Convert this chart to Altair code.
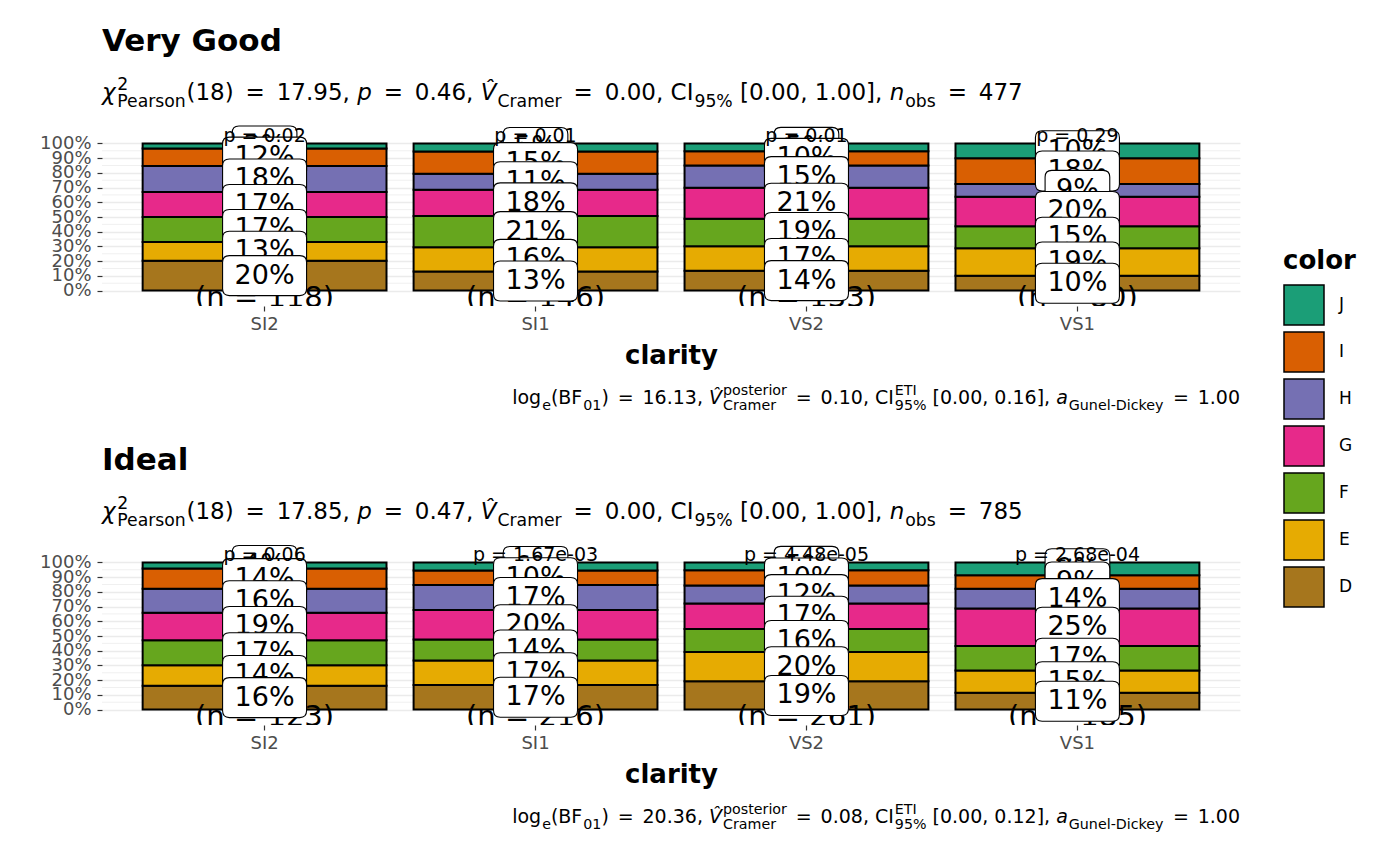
import altair as alt
import pandas as pd

# ---------------- data ----------------
clarity = ["SI2", "SI1", "VS2", "VS1"]
colors = ["D", "E", "F", "G", "H", "I", "J"]
palette = ["#A6761D", "#E6AB02", "#66A61E", "#E7298A", "#7570B3", "#D95F02", "#1B9E77"]

vg_counts = {
    "SI2": [24, 15, 20, 20, 21, 14, 4],
    "SI1": [19, 24, 31, 26, 16, 22, 8],
    "VS2": [18, 22, 25, 28, 20, 13, 7],
    "VS1": [8, 15, 12, 16, 7, 14, 8],
}
ideal_counts = {
    "SI2": [20, 17, 21, 23, 20, 17, 5],
    "SI1": [36, 36, 31, 43, 37, 21, 12],
    "VS2": [50, 52, 41, 45, 32, 27, 14],
    "VS1": [21, 28, 31, 47, 25, 17, 16],
}
vg_p = ["p = 0.02", "p = 0.01", "p = 0.01", "p = 0.29"]
ideal_p = ["p = 0.06", "p = 1.67e-03", "p = 4.48e-05", "p = 2.68e-04"]

y_breaks = [0, 0.1, 0.2, 0.3, 0.4, 0.5, 0.6, 0.7, 0.8, 0.9, 1.0]
minor_breaks = [0.05, 0.15, 0.25, 0.35, 0.45, 0.55, 0.65, 0.75, 0.85, 0.95]

vg_sub = [("i", "χ"), ("supsub", "2", "Pearson"), ("n", "(18) = 17.95, "), ("i", "p"),
          ("n", " = 0.46, "), ("i", "V\u0302"), ("sub", "Cramer"), ("n", " = 0.00, CI"),
          ("sub", "95%"), ("n", " [0.00, 1.00], "), ("i", "n"), ("sub", "obs"), ("n", " = 477")]
ideal_sub = [("i", "χ"), ("supsub", "2", "Pearson"), ("n", "(18) = 17.85, "), ("i", "p"),
             ("n", " = 0.47, "), ("i", "V\u0302"), ("sub", "Cramer"), ("n", " = 0.00, CI"),
             ("sub", "95%"), ("n", " [0.00, 1.00], "), ("i", "n"), ("sub", "obs"), ("n", " = 785")]
vg_cap = [("n", "log"), ("sub", "e"), ("n", "(BF"), ("sub", "01"), ("n", ") = 16.13, "),
          ("i", "V\u0302"), ("supsub", "posterior", "Cramer"), ("n", " = 0.10, CI"),
          ("supsub", "ETI", "95%"), ("n", " [0.00, 0.16], "), ("i", "a"),
          ("sub", "Gunel-Dickey"), ("n", " = 1.00")]
ideal_cap = [("n", "log"), ("sub", "e"), ("n", "(BF"), ("sub", "01"), ("n", ") = 20.36, "),
             ("i", "V\u0302"), ("supsub", "posterior", "Cramer"), ("n", " = 0.08, CI"),
             ("supsub", "ETI", "95%"), ("n", " [0.00, 0.12], "), ("i", "a"),
             ("sub", "Gunel-Dickey"), ("n", " = 1.00")]

# ---------------- layout ----------------
FONT = "DejaVu Sans"
W, H = 1138, 178
YDOM = [-0.105, 1.105]

CW = {' ': 0.318, '(': 0.390, ')': 0.390, '[': 0.390, ']': 0.390, ',': 0.318, '.': 0.318,
      '=': 0.838, '%': 0.950, '-': 0.361, 'a': 0.613, 'b': 0.635, 'c': 0.550, 'd': 0.635,
      'e': 0.615, 'g': 0.635, 'i': 0.278, 'k': 0.579, 'l': 0.278, 'm': 0.974, 'n': 0.634,
      'o': 0.612, 'p': 0.635, 'r': 0.411, 's': 0.521, 't': 0.392, 'u': 0.634, 'y': 0.592,
      'B': 0.686, 'C': 0.698, 'D': 0.770, 'E': 0.632, 'F': 0.575, 'G': 0.775, 'I': 0.295,
      'P': 0.603, 'T': 0.611, 'V': 0.684, 'χ': 0.62, '\u0302': 0.0}
for d in "0123456789":
    CW[d] = 0.636


def tw(s, fs):
    return sum(CW.get(ch, 0.6) for ch in s) * fs


def pieces(t):
    """split a normal text run around '=' so extra math spacing can be added"""
    out = []
    parts = t.split("=")
    for i, p in enumerate(parts):
        if i > 0:
            out.append(("=", True))
        if p:
            out.append((p, False))
    return out


def rich(segs, x0, y0, fs, sc, eq_extra):
    rows = []
    x = x0
    for s in segs:
        if s[0] in ("n", "i"):
            for t, is_eq in pieces(s[1]):
                if is_eq:
                    x += eq_extra * fs
                    rows.append(dict(t="=", x=x, y=y0, fs=fs, st=s[0]))
                    x += tw("=", fs) + eq_extra * fs
                    continue
                lead = len(t) - len(t.lstrip(" "))
                x += lead * CW[" "] * fs
                t2 = t.lstrip(" ")
                if t2:
                    rows.append(dict(t=t2, x=x, y=y0, fs=fs, st=s[0]))
                x += tw(t2, fs)
        elif s[0] == "sub":
            rows.append(dict(t=s[1], x=x + 1, y=y0 + 0.3 * fs, fs=fs * sc, st="n"))
            x += tw(s[1], fs * sc) + 1
        else:
            rows.append(dict(t=s[1], x=x + 1, y=y0 - 0.45 * fs, fs=fs * sc, st="n"))
            rows.append(dict(t=s[2], x=x + 1, y=y0 + 0.3 * fs, fs=fs * sc, st="n"))
            x += max(tw(s[1], fs * sc), tw(s[2], fs * sc)) + 1
    return rows, x - x0


def rrect(hw, hh, r):
    return (f"M {-hw + r} {-hh} L {hw - r} {-hh} Q {hw} {-hh} {hw} {-hh + r} "
            f"L {hw} {hh - r} Q {hw} {hh} {hw - r} {hh} L {-hw + r} {hh} "
            f"Q {-hw} {hh} {-hw} {hh - r} L {-hw} {-hh + r} Q {-hw} {-hh} {-hw + r} {-hh} Z")


WIDE = rrect(1.0, 0.476, 0.16)
NARROW = rrect(0.77, 0.476, 0.16)
BOXSIZE = 7056

xscale = alt.Scale(domain=clarity, paddingInner=0.1, paddingOuter=0.15)
yscale = alt.Scale(domain=YDOM, nice=False, zero=False)
cscale = alt.Scale(domain=colors[::-1], range=palette[::-1])

YAXIS = alt.Axis(title=None, values=y_breaks, format=".0%", labelFontSize=18,
                 labelColor="#4D4D4D", tickColor="#333333", tickSize=5,
                 tickWidth=1.2, domain=False, grid=True, gridColor="#EBEBEB",
                 gridWidth=1.4, labelPadding=6, labelFont=FONT,
                 labelOverlap=False, labelBound=False)
XAXIS = alt.Axis(title="clarity", titleFontSize=26, titleFontWeight="bold",
                 titleColor="black", labelFontSize=18, labelColor="#4D4D4D",
                 tickColor="#333333", tickSize=5, tickWidth=1.2, domain=False,
                 grid=False, labelAngle=0, labelPadding=4, titlePadding=9,
                 labelFont=FONT, titleFont=FONT)

LEGEND = alt.Legend(title="color", orient="none", legendX=1181, legendY=120,
                    symbolType="square", symbolSize=1600, symbolStrokeColor="black",
                    symbolStrokeWidth=1.5, symbolOpacity=1, titleFontSize=26,
                    titleFontWeight="bold", titleColor="black", labelFontSize=17,
                    labelColor="black", rowPadding=1, titlePadding=10, labelOffset=14,
                    titleFont=FONT, labelFont=FONT)


def XE():
    return alt.X("clarity:N", scale=xscale, sort=clarity, axis=XAXIS)


def YE(field):
    return alt.Y(field, scale=yscale, axis=YAXIS)


def panel(name, counts, pvals, sub, cap):
    rows = []
    for c in clarity:
        n = sum(counts[c])
        cum = 0.0
        for col, k in zip(colors, counts[c]):
            f = k / n
            rows.append(dict(clarity=c, color=col, y0=cum, y1=cum + f, ymid=cum + f / 2,
                             label=f"{round(100 * f)}%"))
            cum += f
    df = pd.DataFrame(rows)
    ndf = pd.DataFrame(dict(clarity=clarity,
                            t=[f"(n = {sum(counts[c])})" for c in clarity],
                            y=[-0.05] * 4))
    pdf = pd.DataFrame(dict(clarity=clarity, t=pvals, y=[1.05] * 4))

    grid = alt.Chart(pd.DataFrame(dict(v=minor_breaks))).mark_rule(
        color="#F0F0F0", strokeWidth=1).encode(
        y=YE("v:Q"), x=alt.value(0), x2=alt.value(W))

    bars = alt.Chart(df).mark_bar(stroke="black", strokeWidth=2).encode(
        x=XE(), y=YE("y0:Q"), y2="y1:Q",
        color=alt.Color("color:N", scale=cscale, legend=LEGEND))

    ntext = alt.Chart(ndf).mark_text(fontSize=29, font=FONT, clip=True, color="black").encode(
        x=XE(), y=YE("y:Q"), text="t:N")

    layers = [grid, bars, ntext]
    for col in colors[::-1]:
        sel = df[df.color == col]
        box = alt.Chart(sel).mark_point(filled=True, fill="white", stroke="black",
                                        strokeWidth=1.1, opacity=1, size=BOXSIZE).encode(
            x=XE(), y=YE("ymid:Q"),
            shape=alt.condition("length(datum.label) <= 2", alt.value(NARROW), alt.value(WIDE)))
        txt = alt.Chart(sel).mark_text(fontSize=27, font=FONT, color="black").encode(
            x=XE(), y=YE("ymid:Q"), text="label:N")
        layers += [box, txt]

    ptext = alt.Chart(pdf).mark_text(fontSize=19, font=FONT, color="black").encode(
        x=XE(), y=YE("y:Q"), text="t:N")
    layers.append(ptext)

    ann = [dict(t=name, x=0, y=-77, fs=31, st="b")]
    srows, _ = rich(sub, 0, -28, 23, 0.75, 0.2)
    ann += srows
    _, cw = rich(cap, 0, 0, 19, 0.75, 0.15)
    crows, _ = rich(cap, W - cw, 276, 19, 0.75, 0.15)
    ann += crows
    adf = pd.DataFrame(ann)
    for st, weight, style in [("b", "bold", "normal"), ("n", "normal", "normal"),
                              ("i", "normal", "italic")]:
        layers.append(
            alt.Chart(adf[adf.st == st]).mark_text(
                align="left", baseline="alphabetic", font=FONT, fontWeight=weight,
                fontStyle=style, color="black").encode(
                x=alt.X("x:Q", scale=None, axis=None),
                y=alt.Y("y:Q", scale=None, axis=None),
                size=alt.Size("fs:Q", scale=None, legend=None),
                text="t:N"))

    return alt.layer(*layers).properties(width=W, height=H)


p1 = panel("Very Good", vg_counts, vg_p, vg_sub, vg_cap)
p2 = panel("Ideal", ideal_counts, ideal_p, ideal_sub, ideal_cap)

chart = alt.vconcat(p1, p2, spacing=32).properties(
    padding={"left": 39, "top": 26, "right": 5, "bottom": 5},
    background="white",
).configure(font=FONT).configure_view(strokeWidth=0, stroke="transparent")

chart.save("out.html", embed_options={"renderer": "svg", "actions": False})
